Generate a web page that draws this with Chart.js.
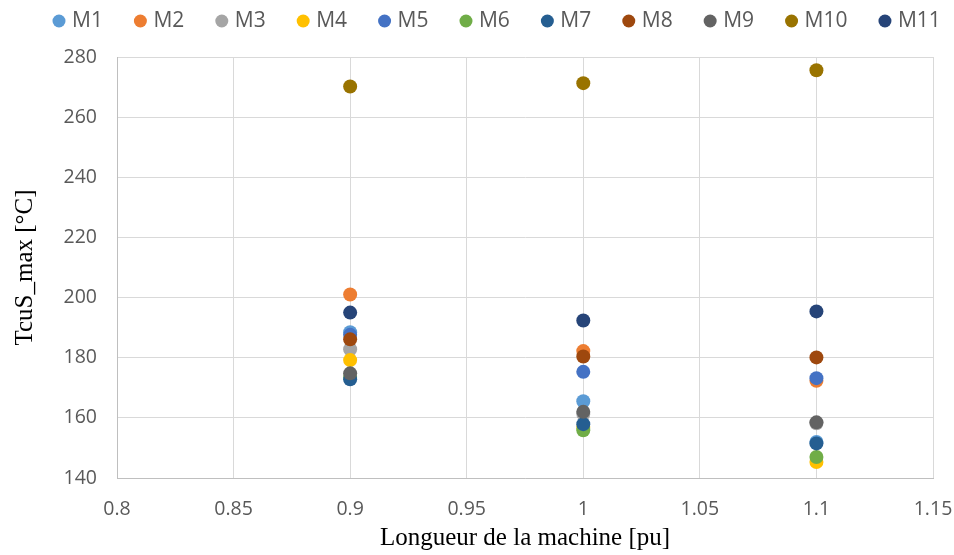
<!DOCTYPE html>
<html><head><meta charset="utf-8">
<script src="https://cdn.jsdelivr.net/npm/chart.js@4"></script>
<style>html,body{margin:0;padding:0;background:#fff}#wrap{width:954px;height:555px}</style>
</head><body><div id="wrap"><canvas id="c" width="954" height="555"></canvas></div>
<script>
const lengths = [0.9, 1, 1.1];
const seriesNames = ["M1","M2","M3","M4","M5","M6","M7","M8","M9","M10","M11"];
const M1  = [188.5, 165.5, 152.0];
const M2  = [201.0, 182.2, 172.3];
const M3  = [182.8, 161.3, 158.2];
const M4  = [179.2, 157.0, 145.3];
const M5  = [187.6, 175.3, 173.2];
const M6  = [173.6, 155.9, 147.0];
const M7  = [172.8, 157.9, 151.5];
const M8  = [186.1, 180.4, 180.1];
const M9  = [174.8, 162.0, 158.5];
const M10 = [270.2, 271.3, 275.6];
const M11 = [195.0, 192.4, 195.4];
const seriesValues = [M1,M2,M3,M4,M5,M6,M7,M8,M9,M10,M11];
const colors = ["#5B9BD5","#ED7D31","#A5A5A5","#FFC000","#4472C4","#70AD47","#255E91","#9E480E","#636363","#997300","#264478"];
const xTickLabels = ["0.8","0.85","0.9","0.95","1","1.05","1.1","1.15"];
const yTickLabels = ["140","160","180","200","220","240","260","280"];

const N = seriesNames.length;
const datasets = seriesNames.map((n,i)=>({
  label:n,
  order: N - 1 - i,
  data: lengths.map((x,j)=>({x:x,y:seriesValues[i][j]})),
  backgroundColor: colors[i], borderColor: colors[i],
  pointRadius:7, pointHoverRadius:7, borderWidth:0, showLine:false
}));

const LEG_PAD = 35, LEG_FONT = 21, LEG_CENTER_Y = 21, PLOT_TOP = 57, LEG_X0 = 56.5;
const legendFix = {
  id:'legendFix',
  beforeInit(chart){
    const lg = chart.legend;
    if (!lg) return;
    const origFit = lg.fit.bind(lg);
    lg.fit = function(){
      const mw = this.maxWidth;
      this.maxWidth = 3000;
      origFit();
      this.maxWidth = mw;
      this.width = mw;
      this.height = PLOT_TOP;
    };
  },
  afterLayout(chart){
    const lg = chart.legend;
    lg.top = LEG_CENTER_Y - LEG_PAD - LEG_FONT/2;
    const lw = lg.lineWidths ? lg.lineWidths[0] : 0;
    lg.right = 3000;
    lg.left = 2*LEG_X0 - LEG_PAD - 3000 + lw;
  }
};

new Chart(document.getElementById('c'), {
  type:'scatter',
  data:{datasets},
  plugins:[legendFix],
  options:{
    responsive:false, animation:false, devicePixelRatio:1,
    layout:{padding:{left:0,right:0,top:0,bottom:0}},
    plugins:{
      legend:{position:'top', labels:{usePointStyle:true, pointStyle:'circle', boxWidth:5, boxHeight:9.2, padding:LEG_PAD,
        sort:(a,b)=>a.datasetIndex-b.datasetIndex,
        color:'#595959', font:{family:'"Open Sans", sans-serif', size:LEG_FONT}}},
      tooltip:{enabled:false}
    },
    scales:{
      x:{type:'linear', min:0.8, max:1.15,
        afterBuildTicks:(ax)=>{ax.ticks = xTickLabels.map(v=>({value:parseFloat(v)}));},
        ticks:{color:'#595959', font:{family:'"Open Sans", sans-serif', size:19.5}, padding:20,
          callback:(v)=>{const f=xTickLabels.find(t=>Math.abs(parseFloat(t)-v)<1e-6);return f!==undefined?f:'';}},
        grid:{color:'#d9d9d9', lineWidth:1, drawTicks:false},
        border:{color:'#bfbfbf'},
        title:{display:true, text:'Longueur de la machine [pu]', color:'#000', font:{family:'"Liberation Serif", serif', size:25}, padding:{top:0,bottom:2}},
        afterFit:(ax)=>{ax.height=555-478; ax.paddingRight=21; ax.paddingLeft=0;}
      },
      y:{type:'linear', min:140, max:280,
        afterBuildTicks:(ax)=>{ax.ticks = yTickLabels.map(v=>({value:parseFloat(v)}));},
        ticks:{color:'#595959', font:{family:'"Open Sans", sans-serif', size:19.5}, padding:20,
          callback:(v)=>{const f=yTickLabels.find(t=>Math.abs(parseFloat(t)-v)<1e-6);return f!==undefined?f:'';}},
        grid:{color:'#d9d9d9', lineWidth:1, drawTicks:false},
        border:{color:'#bfbfbf'},
        title:{display:true, text:'TcuS_max [°C]', color:'#000', font:{family:'"Liberation Serif", serif', size:25}, padding:{top:10,bottom:0}},
        afterFit:(ax)=>{ax.width=117;}
      }
    }
  }
});
</script></body></html>
